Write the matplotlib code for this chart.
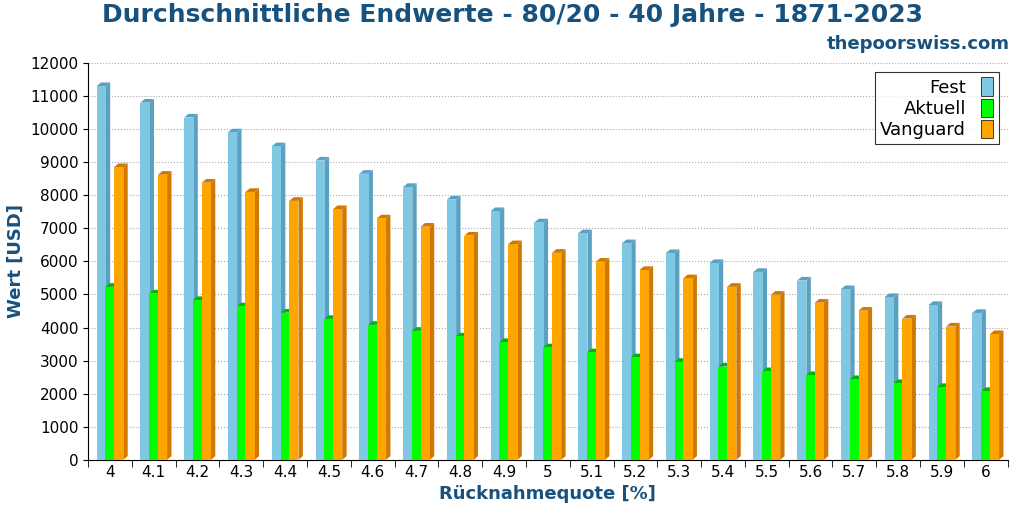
import matplotlib
matplotlib.use("Agg")
import matplotlib.pyplot as plt
from matplotlib.patches import Polygon, Patch
import numpy as np

categories = ["4","4.1","4.2","4.3","4.4","4.5","4.6","4.7","4.8","4.9","5","5.1","5.2","5.3","5.4","5.5","5.6","5.7","5.8","5.9","6"]
fest = [11300,10800,10350,9900,9480,9050,8650,8250,7870,7520,7180,6850,6550,6250,5950,5680,5420,5160,4920,4680,4440]
aktuell = [5230,5030,4830,4640,4450,4260,4080,3900,3730,3560,3400,3250,3100,2960,2820,2680,2560,2440,2320,2200,2080]
vanguard = [8850,8620,8380,8100,7830,7580,7300,7050,6780,6520,6260,5990,5740,5490,5230,4990,4750,4510,4270,4030,3800]

series = [("Fest", fest, "#7ec8e3", "#5aa0c0", -0.20),
          ("Aktuell", aktuell, "#00ff00", "#00b800", 0.0),
          ("Vanguard", vanguard, "#ffa500", "#d07800", 0.20)]

fig = plt.figure(figsize=(10.24, 5.12), dpi=100)
ax = fig.add_axes([0.086, 0.102, 0.898, 0.775])
title_c = "#17527f"
x = np.arange(len(categories))
w = 0.21
dx, dy = 0.1, 110
for name, vals, c, dc, off in series:
    for xi, v in zip(x, vals):
        l = xi + off - w/2
        r = l + w
        ax.add_patch(Polygon([(r, 0), (r+dx, dy), (r+dx, v+dy), (r, v)], closed=True, fc=dc, ec="none", zorder=3))
        ax.add_patch(Polygon([(l, v), (l+dx, v+dy), (r+dx, v+dy), (r, v)], closed=True, fc=dc, ec="none", zorder=3))
    ax.bar(x + off, vals, width=w, color=c, zorder=4)

ax.set_xlim(-0.5, len(categories) - 0.5)
ax.set_ylim(0, 12000)
ax.set_yticks(np.arange(0, 12001, 1000))
ax.set_xticks(x)
ax.set_xticklabels(categories, fontsize=11)
ax.tick_params(axis='x', length=0)
ax.set_xticks(np.arange(-0.5, len(categories), 1), minor=True)
ax.tick_params(axis='x', which='minor', length=5)
ax.tick_params(axis='y', labelsize=11)
ax.grid(axis='y', linestyle=':', color='#aaaaaa', zorder=0)
ax.set_axisbelow(True)
for s in ["top", "right"]:
    ax.spines[s].set_visible(False)
ax.set_xlabel("Rücknahmequote [%]", fontsize=13, fontweight='bold', color=title_c)
ax.set_ylabel("Wert [USD]", fontsize=13, fontweight='bold', color=title_c)
fig.text(0.5, 0.97, "Durchschnittliche Endwerte - 80/20 - 40 Jahre - 1871-2023", ha='center', va='center',
         fontsize=18, fontweight='bold', color=title_c)
fig.text(0.986, 0.915, "thepoorswiss.com", ha='right', va='center', fontsize=13, fontweight='bold', color=title_c)
handles = [Patch(fc=c, ec='black', lw=0.5) for _, _, c, _, _ in series]
leg = ax.legend(handles, [s[0] for s in series], loc='upper right', markerfirst=False, fontsize=13,
                fancybox=False, edgecolor='black', handlelength=0.7, handleheight=1.2, borderpad=0.3,
                labelspacing=0.1, bbox_to_anchor=(1.0, 1.0))
leg.get_frame().set_linewidth(0.8)
fig.savefig("out.png", dpi=100)
